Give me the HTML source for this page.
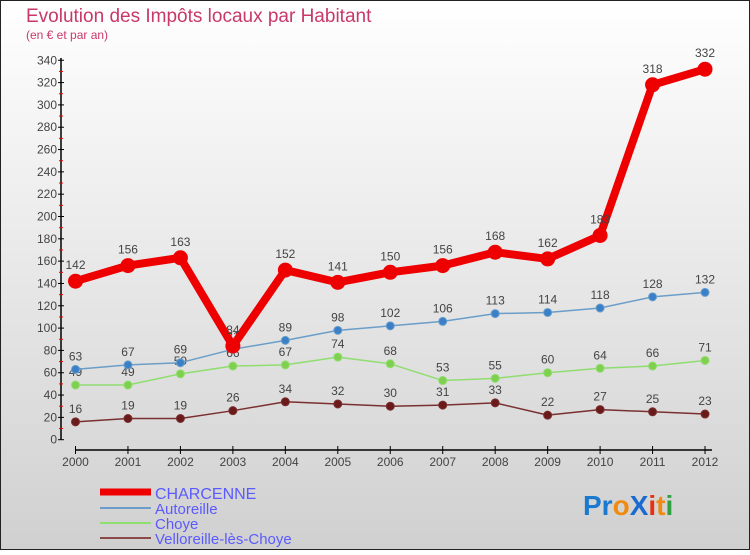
<!DOCTYPE html>
<html><head><meta charset="utf-8"><style>
html,body{margin:0;padding:0}
body{width:750px;height:550px;overflow:hidden;font-family:"Liberation Sans",sans-serif}
svg text{font-family:"Liberation Sans",sans-serif}
</style></head><body>
<svg width="750" height="550" xmlns="http://www.w3.org/2000/svg">
<defs><linearGradient id="bg" x1="0" y1="0" x2="0" y2="1"><stop offset="0" stop-color="#ffffff"/><stop offset="1" stop-color="#d0d0d0"/></linearGradient></defs>
<rect x="0.5" y="0.5" width="749" height="549" fill="url(#bg)" stroke="#222"/>
<text x="26" y="22" font-size="19" fill="#c8386a">Evolution des Impôts locaux par Habitant</text>
<text x="26" y="39" font-size="12" fill="#c8386a">(en € et par an)</text>
<g id="axes"></g>
<g id="series"></g>
<g>
<line x1="100" y1="492" x2="151" y2="492" stroke="#e00" stroke-width="7"/>
<text x="155" y="499" font-size="16" fill="#5a5aff">CHARCENNE</text>
<line x1="100" y1="508" x2="151" y2="508" stroke="#6a9ec8" stroke-width="2"/>
<text x="155" y="514" font-size="15" fill="#5a5aff">Autoreille</text>
<line x1="100" y1="523" x2="151" y2="523" stroke="#90dd70" stroke-width="2"/>
<text x="155" y="529" font-size="15" fill="#5a5aff">Choye</text>
<line x1="100" y1="538" x2="151" y2="538" stroke="#8a4a4a" stroke-width="2"/>
<text x="155" y="544" font-size="15" fill="#5a5aff">Velloreille-lès-Choye</text>
</g>
<g font-size="28" font-weight="bold">
<text x="583" y="515"><tspan fill="#1a7ad0">Pr</tspan><tspan fill="#f08a10">o</tspan><tspan fill="#1a6ad0">X</tspan><tspan fill="#e83010">i</tspan><tspan fill="#f08a10">t</tspan><tspan fill="#30a040">i</tspan></text>
</g>
</svg>
<script>
const years=[2000,2001,2002,2003,2004,2005,2006,2007,2008,2009,2010,2011,2012];
const charcenne=[142,156,163,84,152,141,150,156,168,162,183,318,332];
const autoreille=[63,67,69,81,89,98,102,106,113,114,118,128,132];
const choye=[49,49,59,66,67,74,68,53,55,60,64,66,71];
const velloreille=[16,19,19,26,34,32,30,31,33,22,27,25,23];
const yTicks=[0,20,40,60,80,100,120,140,160,180,200,220,240,260,280,300,320,340];
const NS="http://www.w3.org/2000/svg";
const x=i=>75.5+i*52.46;
const y=v=>439.7-v*1.116;
function mk(tag,attrs,parent,text){const e=document.createElementNS(NS,tag);for(const k in attrs)e.setAttribute(k,attrs[k]);if(text!==undefined)e.textContent=text;parent.appendChild(e);return e;}
const ax=document.getElementById('axes');
let e=mk('line',{x1:61,y1:58,x2:61,y2:440,stroke:'#000','stroke-width':1.5},ax);


e=mk('line',{x1:75,y1:450,x2:712,y2:450,stroke:'#000','stroke-width':1.5},ax);


yTicks.forEach((t,i)=>{
  mk('line',{x1:58,y1:y(t),x2:64,y2:y(t),stroke:'#000'},ax);
  if(i<yTicks.length-1)mk('line',{x1:59,y1:y(t+10),x2:63,y2:y(t+10),stroke:'#e00'},ax);
  const l=mk('text',{x:57,y:y(t)+4,'font-size':12,fill:'#444','text-anchor':'end'},ax,t);
  
  
});
years.forEach((yr,i)=>{
  mk('line',{x1:x(i),y1:446,x2:x(i),y2:454,stroke:'#000'},ax);
  const l=mk('text',{x:x(i),y:466,'font-size':12,fill:'#444','text-anchor':'middle'},ax,yr);
  
  
});
const sg=document.getElementById('series');
function series(data,name,color,w,r,dot){
  const g=mk('g',{},sg);
  
  
  const p=mk('polyline',{points:data.map((v,i)=>x(i)+','+y(v)).join(' '),fill:'none',stroke:color,'stroke-width':w,'stroke-linejoin':'round'},g);
  
  
  data.forEach((v,i)=>{
    const c=mk('circle',{cx:x(i),cy:y(v),r:r,fill:dot,stroke:color,'stroke-width':1},g);
    
    
    const t=mk('text',{x:x(i),y:y(v)-r-5,'font-size':12,fill:'#444','text-anchor':'middle'},g,v);
    
    
  });
}
series(velloreille,'velloreille','#7a3030',1.5,4,'#6a1a1a');
series(choye,'choye','#90dd70',1.5,4,'#80d050');
series(autoreille,'autoreille','#6a9ec8',1.5,4,'#3a80c8');
series(charcenne,'charcenne','#ee0000',8,7,'#ee0000');
</script>
</body></html>
